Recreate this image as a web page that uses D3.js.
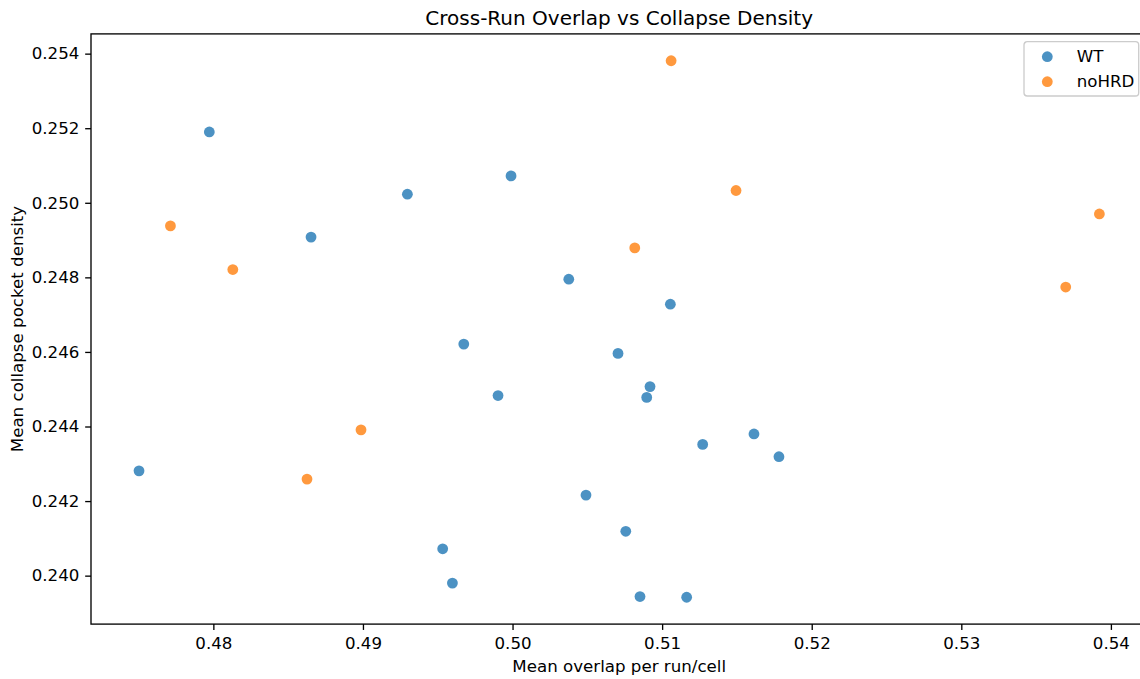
<!DOCTYPE html>
<html>
<head>
<meta charset="utf-8">
<script src="https://cdn.jsdelivr.net/npm/d3@7"></script>
<style>
  body { margin: 0; background: #ffffff; }
  svg { display: block; }
  text { font-family: "DejaVu Sans", sans-serif; fill: #000; }
</style>
</head>
<body>
<svg id="chart" width="1140" height="679"></svg>
<script>
// ---- data ----
const chartTitle = "Cross-Run Overlap vs Collapse Density";
const xLabel = "Mean overlap per run/cell";
const yLabel = "Mean collapse pocket density";
const seriesNames = ["WT", "noHRD"];
const seriesColors = ["#1f77b4", "#ff7f0e"];

const wtX = [0.47973, 0.48653, 0.47503, 0.49990, 0.49297, 0.50376, 0.51055, 0.49674,
             0.50705, 0.50919, 0.50897, 0.49903, 0.51271, 0.50491, 0.50757, 0.49533,
             0.49598, 0.50852, 0.51164, 0.51614, 0.51781];
const wtY = [0.25190, 0.24908, 0.24281, 0.25072, 0.25023, 0.24795, 0.24728, 0.24621,
             0.24596, 0.24507, 0.24478, 0.24483, 0.24352, 0.24216, 0.24119, 0.24072,
             0.23980, 0.23944, 0.23942, 0.24380, 0.24319];

const noHrdX = [0.47713, 0.48130, 0.48626, 0.48987, 0.50817, 0.51060, 0.51494, 0.53698, 0.53923];
const noHrdY = [0.24938, 0.24821, 0.24259, 0.24391, 0.24879, 0.25381, 0.25033, 0.24774, 0.24970];

const xTickValues = [0.48, 0.49, 0.50, 0.51, 0.52, 0.53, 0.54];
const yTickValues = [0.240, 0.242, 0.244, 0.246, 0.248, 0.250, 0.252, 0.254];

// ---- layout ----
const svg = d3.select("#chart");
const margin = { left: 91, top: 33.9 };
const plotW = 1056.4, plotH = 590.2;
const fontTick = 16.67, fontLabel = 16.67, fontTitle = 20;
const tickLen = 5.83, lineW = 1.33;

const series = [
  { name: seriesNames[0], color: seriesColors[0], xs: wtX, ys: wtY },
  { name: seriesNames[1], color: seriesColors[1], xs: noHrdX, ys: noHrdY }
];

const allX = wtX.concat(noHrdX), allY = wtY.concat(noHrdY);
function padded(ext) { const d = (ext[1] - ext[0]) * 0.05; return [ext[0] - d, ext[1] + d]; }

const x = d3.scaleLinear().domain(padded(d3.extent(allX))).range([0, plotW]);
const y = d3.scaleLinear().domain(padded(d3.extent(allY))).range([plotH, 0]);

const g = svg.append("g").attr("transform", `translate(${margin.left},${margin.top})`);

// points
series.forEach(s => {
  g.append("g").selectAll("circle")
    .data(s.xs.map((v, i) => [v, s.ys[i]]))
    .join("circle")
    .attr("cx", d => x(d[0]))
    .attr("cy", d => y(d[1]))
    .attr("r", 5.4)
    .attr("fill", s.color)
    .attr("fill-opacity", 0.8);
});

// axes
const xAxis = g.append("g").attr("transform", `translate(0,${plotH})`)
  .call(d3.axisBottom(x).tickValues(xTickValues).tickFormat(d3.format(".2f"))
        .tickSize(tickLen).tickPadding(7.2));
const yAxis = g.append("g")
  .call(d3.axisLeft(y).tickValues(yTickValues).tickFormat(d3.format(".3f"))
        .tickSize(tickLen).tickPadding(5.83));
[xAxis, yAxis].forEach(a => {
  a.select(".domain").remove();
  a.selectAll(".tick line").attr("stroke", "#000").attr("stroke-width", lineW);
  a.selectAll(".tick text").attr("font-size", fontTick).attr("font-family", "DejaVu Sans").attr("fill", "#000");
});

// spines
g.append("rect").attr("x", 0).attr("y", 0).attr("width", plotW).attr("height", plotH)
  .attr("fill", "none").attr("stroke", "#000").attr("stroke-width", lineW);

// title
g.append("text").attr("x", plotW / 2).attr("y", 25 - margin.top)
  .attr("text-anchor", "middle").attr("font-size", fontTitle).text(chartTitle);

// x label
g.append("text").attr("x", plotW / 2).attr("y", 672.3 - margin.top)
  .attr("text-anchor", "middle").attr("font-size", fontLabel).text(xLabel);

// y label
g.append("text")
  .attr("transform", `translate(${23.3 - margin.left},${plotH / 2}) rotate(-90)`)
  .attr("text-anchor", "middle").attr("font-size", fontLabel).text(yLabel);

// legend
const leg = svg.append("g").attr("transform", "translate(1024,41.7)");
leg.append("rect").attr("width", 114.7).attr("height", 54.3).attr("rx", 3.3)
  .attr("fill", "#fff").attr("fill-opacity", 0.8)
  .attr("stroke", "#cccccc").attr("stroke-width", lineW);
series.forEach((s, i) => {
  const row = leg.append("g").attr("transform", `translate(0,${15 + i * 25})`);
  row.append("circle").attr("cx", 23.3).attr("cy", 0).attr("r", 5.4)
    .attr("fill", s.color).attr("fill-opacity", 0.8);
  row.append("text").attr("x", 52.7).attr("y", 0).attr("dy", "0.3em")
    .attr("font-size", fontLabel).text(s.name);
});
</script>
</body>
</html>
